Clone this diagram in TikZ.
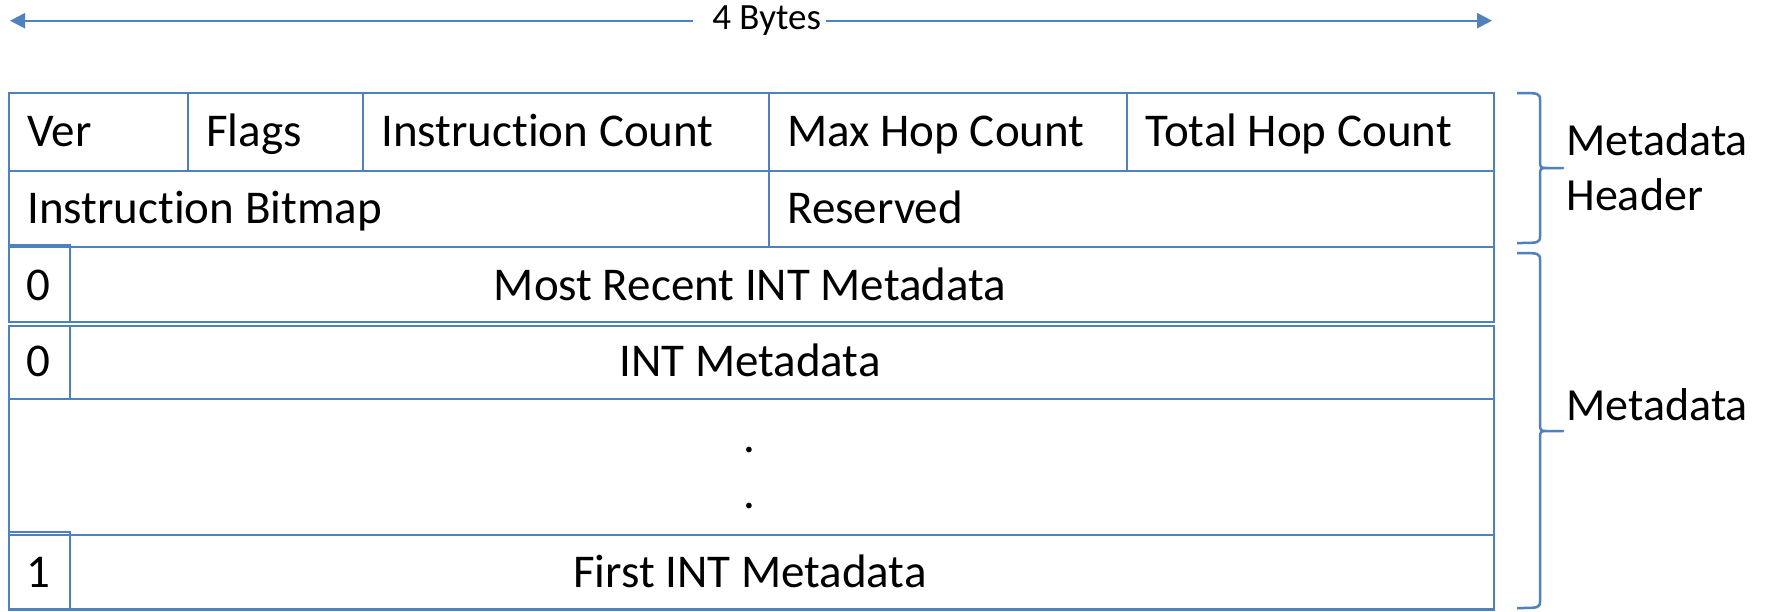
\documentclass[tikz,border=0pt]{standalone}
\usepackage{fontspec}
\setmainfont[Ligatures=NoCommon]{Carlito}
\usetikzlibrary{arrows.meta}
\definecolor{frame}{RGB}{79,129,189}
\begin{document}
\begin{tikzpicture}[x=0.5pt,y=-0.5pt,
  cell/.style={draw=frame, line width=1.45pt},
  lbl/.style={inner sep=0pt, font=\fontsize{23.5}{28}\selectfont},
  side/.style={inner sep=0pt, font=\fontsize{23}{27.5}\selectfont, align=left, anchor=base west},
  bracepath/.style={draw=frame, line width=1.25pt, line join=round},
  dimline/.style={draw=frame, line width=1.15pt, -{Triangle[length=7.5pt,width=7.5pt]}}]
\useasboundingbox[fill=white] (0,0) rectangle (1775,611);

% width arrow
\coordinate (aL) at (10,20.7);
\coordinate (aR) at (1492,20.7);
\node[inner sep=0pt, font=\fontsize{18.5}{22}\selectfont, anchor=base] (bytes) at (766.7,29.5) {4 Bytes};
\draw[dimline, shorten <=9.5pt] (aL -| bytes.west) -- (aL);
\draw[dimline, shorten <=2.5pt] (aR -| bytes.east) -- (aR);

% metadata header, first word
\draw[cell] (9,93) rectangle (1494,171);
\draw[cell] (188,93) -- (188,171);
\draw[cell] (363,93) -- (363,171);
\draw[cell] (769,93) -- (769,171);
\draw[cell] (1127,93) -- (1127,171);
\node[lbl, anchor=base west] (ver) at (27,146.7) {Ver};
\node[lbl, anchor=base west] (flags) at (206,146.7) {Flags};
\node[lbl, anchor=base west] (icount) at (381,146.7) {Instruction Count};
\node[lbl, anchor=base west] (maxhop) at (787,146.7) {Max Hop Count};
\node[lbl, anchor=base west] (tothop) at (1145,146.7) {Total Hop Count};

% metadata header, second word
\draw[cell] (9,171) rectangle (1494,247);
\draw[cell] (769,171) -- (769,247);
\node[lbl, anchor=base west] (bitmap) at (27,223) {Instruction Bitmap};
\node[lbl, anchor=base west] (resv) at (787,223) {Reserved};

% metadata stack
\draw[cell] (9,247) rectangle (1494,322);
\draw[cell] (9,245) rectangle (70,322);
\node[lbl, anchor=base] (bos0a) at (38.5,300) {0};
\node[lbl, anchor=base] (recent) at (750,300) {Most Recent INT Metadata};

\draw[cell] (9,326) rectangle (1494,399);
\draw[cell] (9,326) rectangle (70,399);
\node[lbl, anchor=base] (bos0b) at (38.5,376.7) {0};
\node[lbl, anchor=base] (intmd) at (750,376.7) {INT Metadata};

\draw[cell] (9,399) rectangle (1494,535);
\node[lbl, anchor=base] (dot1) at (749,452.5) {.};
\node[lbl, anchor=base] (dot2) at (749,508.5) {.};

\draw[cell] (9,535) rectangle (1494,609.5);
\draw[cell] (9,532) rectangle (70,609.5);
\node[lbl, anchor=base] (bos1) at (38.5,587) {1};
\node[lbl, anchor=base] (first) at (750,587) {First INT Metadata};

% braces
\draw[bracepath] (1517,93) .. controls (1540,93) .. (1540,101) -- (1540,160)
  .. controls (1540,168) .. (1548,168) -- (1563,168) -- (1548,168)
  .. controls (1540,168) .. (1540,176) -- (1540,235)
  .. controls (1540,243) .. (1517,243);
\draw[bracepath] (1517,253) .. controls (1540,253) .. (1540,261) -- (1540,423)
  .. controls (1540,431) .. (1548,431) -- (1563,431) -- (1548,431)
  .. controls (1540,431) .. (1540,439) -- (1540,600)
  .. controls (1540,608) .. (1517,608);

% the base of a two-line node sits on its last line
\node[side] (hdrlbl) at (1566,210) {Metadata\\Header};
\node[side] (mdlbl) at (1566,420) {Metadata};
\end{tikzpicture}
\end{document}
